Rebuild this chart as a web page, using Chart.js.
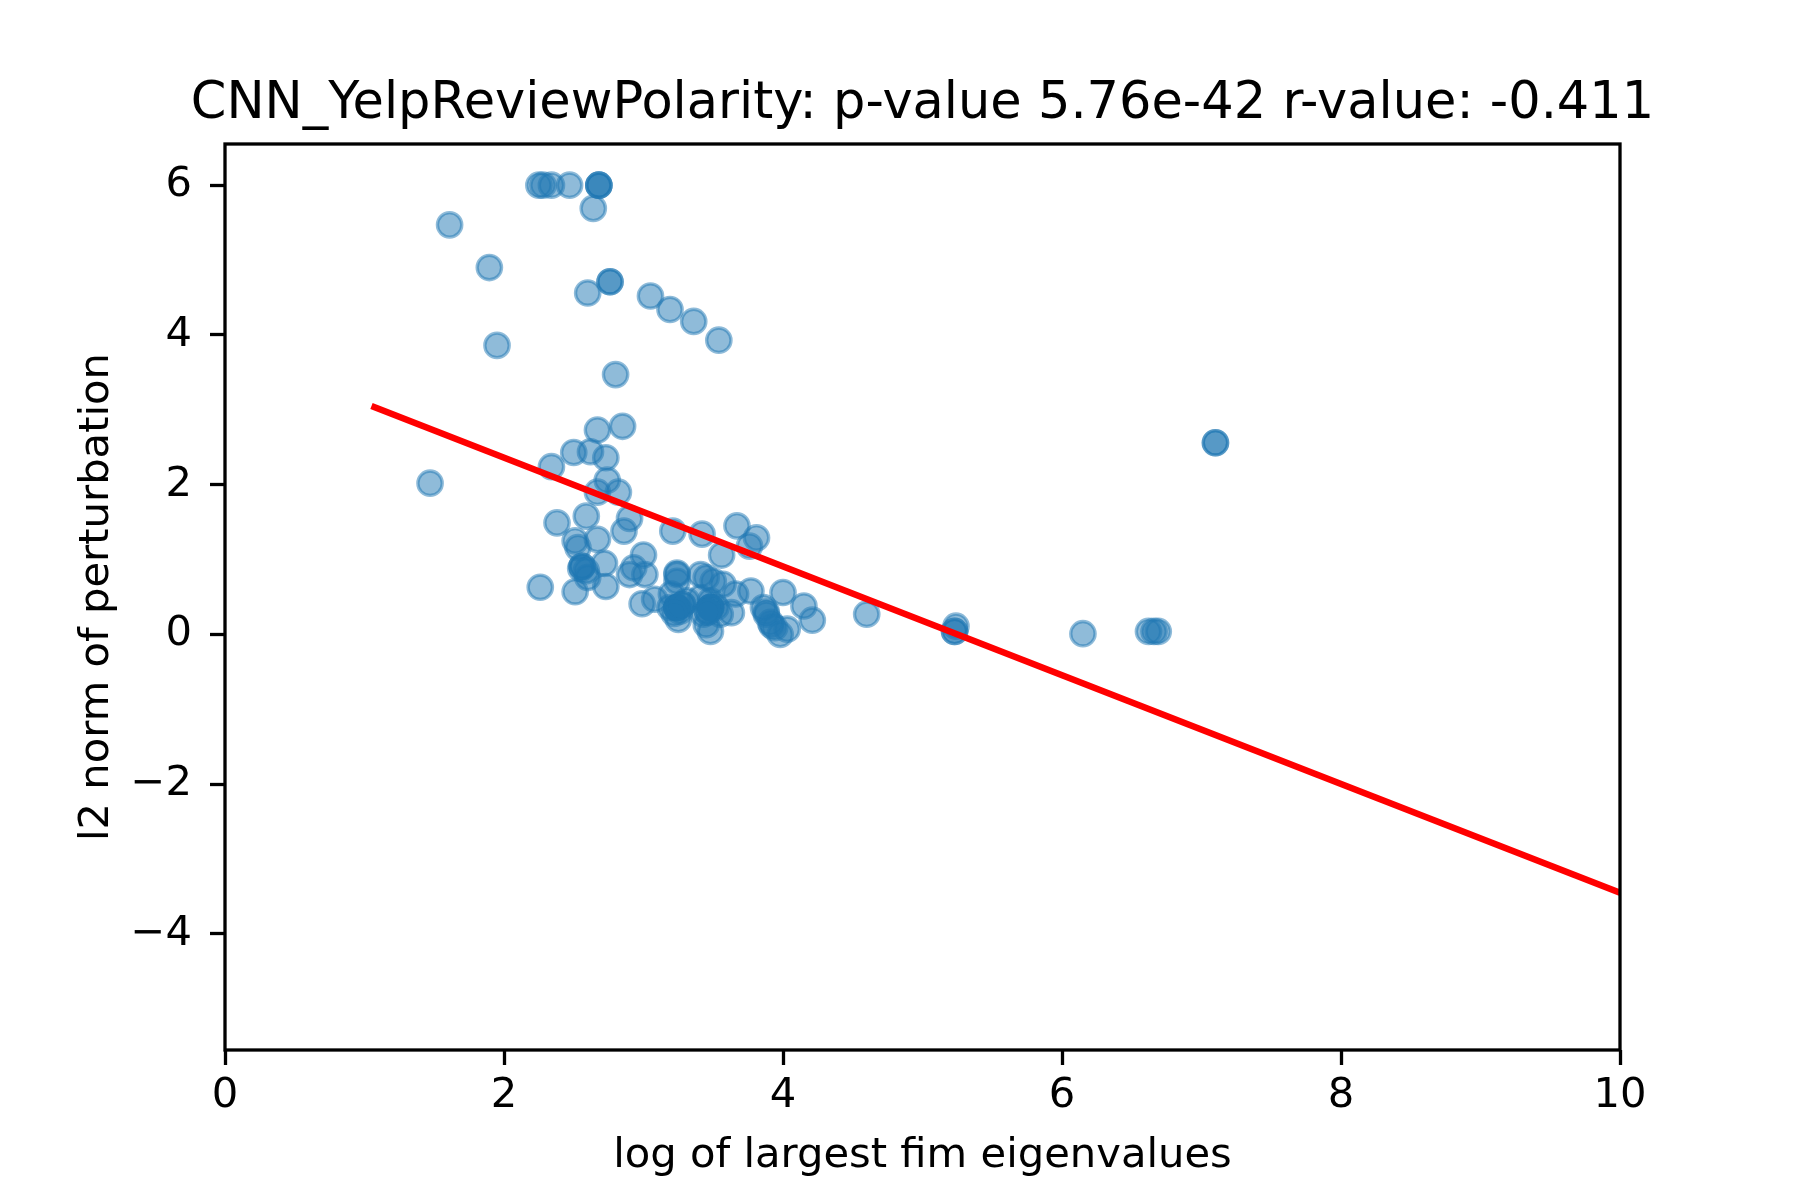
<!DOCTYPE html>
<html>
<head>
<meta charset="utf-8">
<script src="https://cdn.jsdelivr.net/npm/chart.js@4.4.1/dist/chart.umd.min.js"></script>
<style>
  html, body { margin: 0; padding: 0; background: #fff; }
  #wrap { width: 1800px; height: 1200px; }
</style>
</head>
<body>
<div id="wrap"><canvas id="chart" width="1800" height="1200"></canvas></div>
<script>
// Title and axis labels
const TITLE = 'CNN_YelpReviewPolarity: p-value 5.76e-42 r-value: -0.411';
const X_LABEL = 'log of largest fim eigenvalues';
const Y_LABEL = 'l2 norm of perturbation';

// Tick values
const xTicks = [0, 2, 4, 6, 8, 10];
const yTicks = [-4, -2, 0, 2, 4, 6];

// Scatter samples (repeats are overlapping points)
const xValues = [
  2.25, 2.28, 2.34, 2.47, 2.68, 2.68, 2.68,
  1.61, 2.64, 1.895,
  2.60, 2.76, 2.76,
  3.05, 3.19, 3.36, 3.54,
  1.95, 2.80,
  2.85, 2.67,
  2.50, 2.62, 2.73, 2.34,
  1.47,
  2.74, 2.67, 2.82,
  2.59, 2.38, 2.90, 2.86,
  3.21, 3.42, 3.67, 3.81, 3.76, 3.56,
  2.51, 2.67, 2.53,
  2.56, 2.56, 2.55, 2.59, 2.60, 2.72,
  3.00, 2.93, 2.90, 3.01,
  2.26, 2.51, 2.73,
  2.99, 3.08,
  3.24, 3.24, 3.24, 3.20, 3.19, 3.26, 3.25, 3.31,
  3.24, 3.24, 3.24, 3.24, 3.28, 3.28, 3.22,
  3.41, 3.45, 3.50, 3.57, 3.41, 3.48, 3.52, 3.43, 3.45, 3.48, 3.55, 3.63, 3.66,
  3.48, 3.48, 3.48, 3.48, 3.46, 3.46,
  3.77, 3.86, 3.88, 3.91, 3.94, 3.98, 4.03, 4.00, 4.15, 4.21,
  3.88, 3.92,
  4.60,
  5.23, 5.23, 5.24,
  6.15,
  6.62, 6.66, 6.69,
  7.10, 7.10
];
const yValues = [
  6.00, 6.00, 6.00, 6.00, 6.00, 6.00, 6.00,
  5.47, 5.69, 4.90,
  4.56, 4.71, 4.71,
  4.52, 4.34, 4.18, 3.93,
  3.86, 3.47,
  2.78, 2.73,
  2.43, 2.44, 2.36, 2.24,
  2.02,
  2.06, 1.90, 1.90,
  1.58, 1.49, 1.55, 1.38,
  1.38, 1.34, 1.45, 1.29, 1.18, 1.06,
  1.25, 1.27, 1.16,
  0.91, 0.91, 0.88, 0.85, 0.76, 0.95,
  1.06, 0.89, 0.80, 0.80,
  0.63, 0.57, 0.64,
  0.41, 0.47,
  0.82, 0.80, 0.71, 0.54, 0.36, 0.31, 0.20, 0.45,
  0.36, 0.36, 0.36, 0.36, 0.40, 0.40, 0.28,
  0.80, 0.76, 0.71, 0.67, 0.49, 0.45, 0.36, 0.27, 0.13, 0.04, 0.27, 0.29, 0.54,
  0.36, 0.36, 0.36, 0.36, 0.30, 0.30,
  0.58, 0.36, 0.27, 0.16, 0.09, 0.00, 0.07, 0.56, 0.38, 0.19,
  0.30, 0.12,
  0.27,
  0.04, 0.04, 0.11,
  0.01,
  0.04, 0.04, 0.04,
  2.56, 2.56
];

// Fitted regression line end points
const lineX = [1.05, 10];
const lineY = [3.05, -3.45];

const FONT = 'DejaVu Sans';
const TICK_SIZE = 41.7;
const BLUE = 'rgba(31, 119, 180, 0.5)';

const points = xValues.map((x, i) => ({ x, y: yValues[i] }));
const linePoints = lineX.map((x, i) => ({ x, y: lineY[i] }));

// Matplotlib-style full frame around the plot area, title centred over the axes
const framePlugin = {
  id: 'frame',
  afterDraw(chart) {
    const { ctx, chartArea } = chart;
    ctx.save();
    ctx.strokeStyle = '#000';
    ctx.lineWidth = 3.3;
    ctx.lineJoin = 'miter';
    ctx.strokeRect(chartArea.left, chartArea.top,
      chartArea.right - chartArea.left, chartArea.bottom - chartArea.top);

    ctx.fillStyle = '#000';
    ctx.font = `51px "${FONT}"`;
    ctx.textAlign = 'center';
    ctx.textBaseline = 'alphabetic';
    ctx.fillText(TITLE, (chartArea.left + chartArea.right) / 2, chartArea.top - 26);
    ctx.restore();
  },
};

const minusSign = (v) => String(v).replace('-', '\u2212');

new Chart(document.getElementById('chart'), {
  type: 'scatter',
  data: {
    datasets: [
      {
        type: 'line',
        data: linePoints,
        borderColor: '#ff0000',
        borderWidth: 6.5,
        pointRadius: 0,
        fill: false,
        order: 0,
      },
      {
        data: points,
        backgroundColor: BLUE,
        borderColor: BLUE,
        borderWidth: 3.3,
        pointRadius: 12.2,
        pointHoverRadius: 12.2,
        order: 1,
      },
    ],
  },
  options: {
    responsive: false,
    devicePixelRatio: 1,
    animation: false,
    events: [],
    layout: { padding: { left: 0, right: 180, top: 144, bottom: 0 } },
    plugins: {
      legend: { display: false },
      tooltip: { enabled: false },
      title: { display: false },
    },
    scales: {
      x: {
        type: 'linear',
        min: 0,
        max: 10,
        afterBuildTicks: (scale) => { scale.ticks = xTicks.map((v) => ({ value: v })); },
        afterFit: (scale) => { scale.height = 150; },
        border: { display: false },
        grid: {
          drawOnChartArea: false,
          drawTicks: true,
          tickLength: 15,
          tickWidth: 3.3,
          tickColor: '#000',
        },
        ticks: {
          color: '#000',
          padding: 6,
          maxRotation: 0,
          font: { family: FONT, size: TICK_SIZE },
          callback: minusSign,
        },
        title: {
          display: true,
          text: X_LABEL,
          color: '#000',
          font: { family: FONT, size: TICK_SIZE, lineHeight: 1.2 },
          padding: { top: 0, bottom: 19 },
        },
      },
      y: {
        type: 'linear',
        min: -5.55,
        max: 6.55,
        afterBuildTicks: (scale) => { scale.ticks = yTicks.map((v) => ({ value: v })); },
        afterFit: (scale) => { scale.width = 225; },
        border: { display: false },
        grid: {
          drawOnChartArea: false,
          drawTicks: true,
          tickLength: 15,
          tickWidth: 3.3,
          tickColor: '#000',
        },
        ticks: {
          color: '#000',
          padding: 18,
          font: { family: FONT, size: TICK_SIZE },
          callback: minusSign,
        },
        title: {
          display: true,
          text: Y_LABEL,
          color: '#000',
          font: { family: FONT, size: TICK_SIZE, lineHeight: 1.2 },
          padding: { top: 72, bottom: 0 },
        },
      },
    },
  },
  plugins: [framePlugin],
});
</script>
</body>
</html>
